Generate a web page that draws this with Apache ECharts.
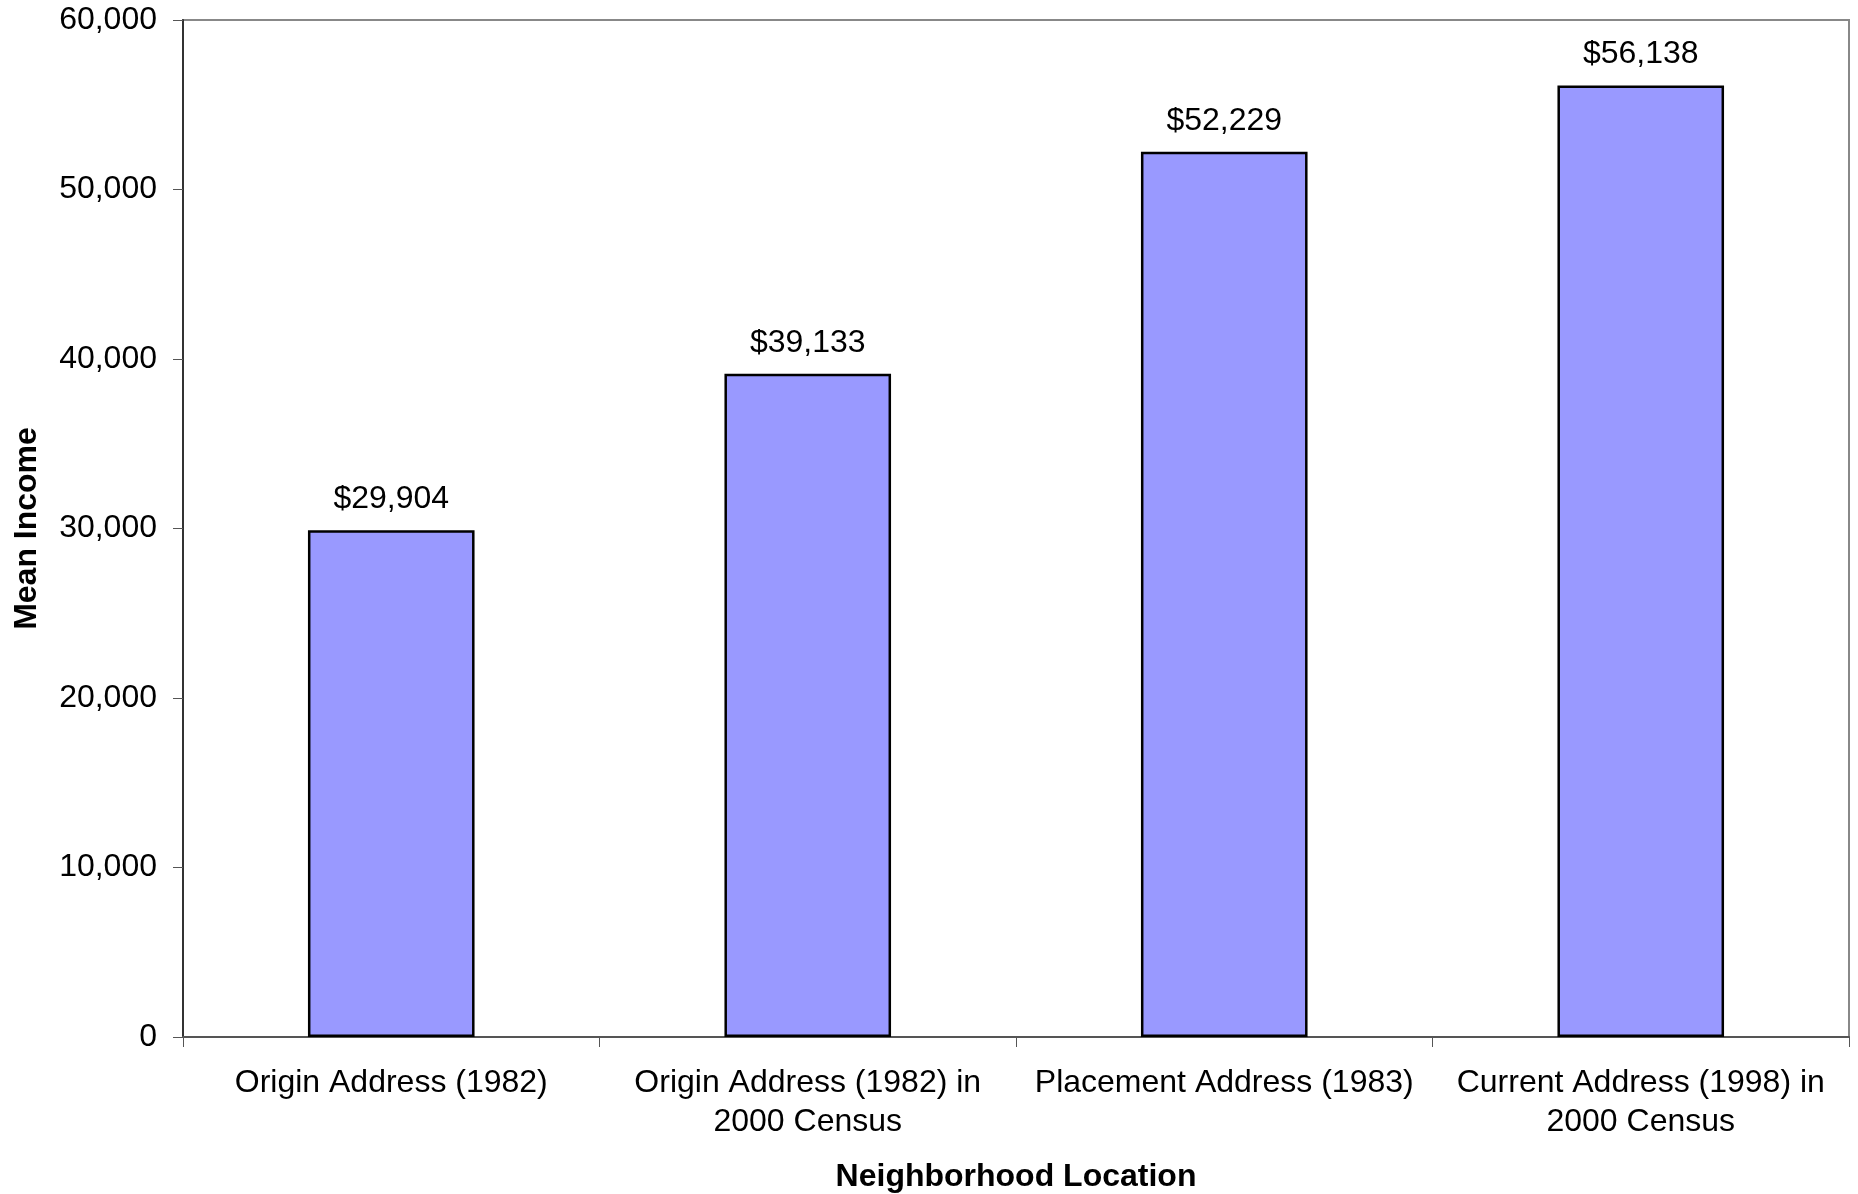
<!DOCTYPE html>
<html>
<head>
<meta charset="utf-8">
<script src="https://cdn.jsdelivr.net/npm/echarts@6/dist/echarts.min.js"></script>
<style>html,body{margin:0;padding:0;background:#fff;}#c{width:1858px;height:1194px;}</style>
</head>
<body>
<div id="c"></div>
<script>
const categories = [
  "Origin Address (1982)",
  "Origin Address (1982) in\n2000 Census",
  "Placement Address (1983)",
  "Current Address (1998) in\n2000 Census"
];
const meanIncome = [29904, 39133, 52229, 56138];
const yTicks = { min: 0, max: 60000, interval: 10000 };
const xTitle = "Neighborhood Location";
const yTitle = "Mean Income";

const FONT = '"Liberation Sans", Arial, sans-serif';
const fmt = v => v.toString().replace(/\B(?=(\d{3})+(?!\d))/g, ',');

const chart = echarts.init(document.getElementById('c'));
chart.setOption({
  animation: false,
  backgroundColor: '#fff',
  textStyle: { fontFamily: FONT, color: '#000' },
  grid: { left: 183, right: 9, top: 20, bottom: 157, containLabel: false, outerBoundsMode: 'none', show: true, borderColor: '#888', borderWidth: 2, backgroundColor: 'transparent' },
  xAxis: {
    type: 'category',
    data: categories,
    name: xTitle,
    nameLocation: 'middle',
    nameGap: 124,
    nameTextStyle: { fontSize: 32, fontWeight: 'bold', fontFamily: FONT, color: '#000' },
    axisLine: { lineStyle: { color: '#555', width: 2 } },
    axisTick: { show: true, length: 10, alignWithLabel: false, lineStyle: { color: '#555', width: 1 } },
    axisLabel: { fontSize: 32, fontFamily: FONT, color: '#000', margin: 27, lineHeight: 39, interval: 0 },
    splitLine: { show: false }
  },
  yAxis: {
    type: 'value',
    min: yTicks.min, max: yTicks.max, interval: yTicks.interval,
    name: yTitle,
    nameLocation: 'middle',
    nameGap: 140,
    nameTextStyle: { fontSize: 32, fontWeight: 'bold', fontFamily: FONT, color: '#000' },
    axisLine: { show: true, lineStyle: { color: '#333', width: 2 } },
    axisTick: { show: true, length: 10, lineStyle: { color: '#555', width: 1 } },
    axisLabel: { fontSize: 32, fontFamily: FONT, color: '#000', margin: 26, formatter: v => fmt(v) },
    splitLine: { show: false }
  },
  series: [{
    type: 'bar',
    data: meanIncome,
    barWidth: '40%',
    itemStyle: { color: '#9999FF', borderColor: '#000', borderWidth: 2.5 },
    label: { show: true, position: 'top', distance: 15, fontSize: 32, fontFamily: FONT, color: '#000', formatter: p => '$' + fmt(p.value) }
  }]
});
</script>
</body>
</html>
